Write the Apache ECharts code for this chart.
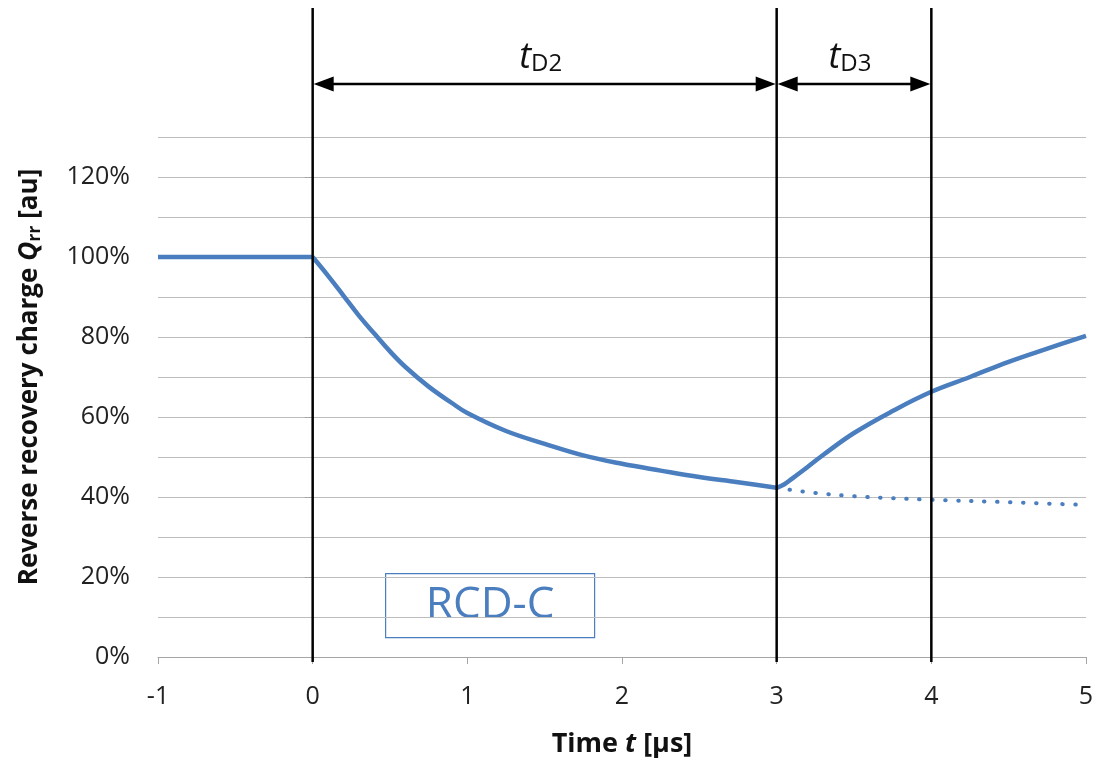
<!DOCTYPE html>
<html><head><meta charset="utf-8">
<script src="https://cdn.jsdelivr.net/npm/echarts@6/dist/echarts.min.js"></script>
<style>html,body{margin:0;padding:0;background:#fff}#c{width:1099px;height:765px}</style>
</head><body><div id="c"></div>
<script>
// ---- data ----
const flatPhase = [[-1,100],[0,100]];
const decayPhase = [[0,100],[0.1,95.3],[0.2,90.3],[0.3,85.3],[0.4,80.8],[0.5,76.4],[0.6,72.5],[0.75,67.6],[0.9,63.5],[1,61],[1.25,56.5],[1.5,53.3],[1.75,50.4],[2,48.3],[2.25,46.6],[2.5,45],[2.75,43.7],[3,42.3]];
const recoveryPhase = [[3,42.3],[3.05,43.2],[3.1,44.6],[3.2,47.5],[3.3,50.5],[3.5,56],[3.75,61.5],[4,66.3],[4.25,70],[4.5,73.8],[4.75,77.1],[5,80.3]];
const continuedDecay = [[3,42.3],[3.25,41],[3.5,40.2],[3.75,39.7],[4,39.3],[4.5,38.7],[5,38]];
const markerTimes = [0,3,4];
const spans = [[0,3,'D2'],[3,4,'D3']];
const yLabelValues = [0,20,40,60,80,100,120];

const blue = '#4a7ebf';
const chart = echarts.init(document.getElementById('c'));
const font = '"Open Sans", sans-serif';

function markerRender(params, api){
  const x = api.coord([api.value(0), 0])[0];
  const cs = params.coordSys;
  return {type:'line', shape:{x1:x, y1:8, x2:x, y2:cs.y+cs.height+5},
    style:{stroke:'#000', lineWidth:2.5}};
}
function spanRender(params, api){
  const cs = params.coordSys;
  const a = api.coord([api.value(0),0])[0] + 1;
  const b = api.coord([api.value(1),0])[0] - 1;
  const y = cs.y - 53;
  const L = 20, H = 7.5;
  const label = spans[params.dataIndex][2];
  return {type:'group', children:[
    {type:'line', shape:{x1:a+5, y1:y, x2:b-5, y2:y}, style:{stroke:'#000', lineWidth:2.5}},
    {type:'polygon', shape:{points:[[a,y],[a+L,y-H],[a+L,y+H]]}, style:{fill:'#000'}},
    {type:'polygon', shape:{points:[[b,y],[b-L,y-H],[b-L,y+H]]}, style:{fill:'#000'}},
    {type:'text', style:{x:(a+b)/2 - 4, y:y-28, align:'center', verticalAlign:'middle',
      text:'{t|t}{s|'+label+'}',
      rich:{t:{fontSize:36, fontStyle:'italic', fontFamily:font, fill:'#111', verticalAlign:'bottom'},
            s:{fontSize:24, fontFamily:font, fill:'#111', verticalAlign:'bottom', padding:[16,0,0,0]}}}}
  ]};
}

const lineOpts = {showSymbol:false, smooth:0.4, z:3};

chart.setOption({
  animation:false,
  backgroundColor:'#fff',
  grid:{left:158, right:13, top:137, bottom:108, containLabel:false, outerBoundsMode:'none'},
  xAxis:{type:'value', min:-1, max:5, interval:1,
    axisLine:{show:true, lineStyle:{color:'#a6a6a6', width:1}},
    axisTick:{show:true, length:7, lineStyle:{color:'#a6a6a6'}},
    axisLabel:{margin:27, fontSize:25, color:'#222', fontFamily:font},
    splitLine:{show:false},
    name:'{b|Time }{i|t}{b| [µs]}', nameLocation:'middle', nameGap:74,
    nameTextStyle:{rich:{b:{fontSize:27, fontWeight:'bold', fontFamily:font, color:'#111'},
      i:{fontSize:27, fontWeight:'bold', fontStyle:'italic', fontFamily:font, color:'#111'}}}
  },
  yAxis:[{type:'value', min:0, max:130, interval:10,
    axisLine:{show:true, lineStyle:{color:'#a6a6a6', width:1}},
    axisTick:{show:true, length:8, lineStyle:{color:'#a6a6a6'}, customValues:yLabelValues},
    axisLabel:{margin:28, fontSize:25, color:'#222', fontFamily:font, customValues:yLabelValues,
      formatter:v=>v+'%'},
    splitLine:{show:false},
    name:'{b|Reverse recovery charge }{i|Q}{s|rr}{b| [au]}', nameLocation:'middle', nameGap:114, nameRotate:90,
    nameTextStyle:{padding:[0,0,0,40], rich:{b:{fontSize:26, fontWeight:'bold', fontFamily:font, color:'#111'},
      i:{fontSize:26, fontWeight:'bold', fontStyle:'italic', fontFamily:font, color:'#111'},
      s:{fontSize:18, fontWeight:'bold', fontFamily:font, color:'#111', padding:[10,0,0,0]}}}
  },{type:'value', min:0, max:130, interval:10, position:'left',
    axisLine:{show:false}, axisTick:{show:false}, axisLabel:{show:false},
    splitLine:{show:true, lineStyle:{color:'#bdbdbd', width:1}}
  }],
  graphic:[{type:'group', left:385, top:573, children:[
    {type:'rect', shape:{x:0,y:0,width:209,height:64}, style:{fill:'#fff', stroke:blue, lineWidth:1.2}},
    {type:'text', style:{x:104.5, y:32, text:'RCD-C', align:'center', verticalAlign:'middle',
      fontSize:44, fontFamily:font, fill:blue}}
  ]}],
  series:[
    Object.assign({type:'line', data:flatPhase, lineStyle:{color:blue, width:4.5}}, lineOpts, {smooth:false}),
    Object.assign({type:'line', data:decayPhase, lineStyle:{color:blue, width:4.5}}, lineOpts),
    Object.assign({type:'line', data:recoveryPhase, lineStyle:{color:blue, width:4.5}}, lineOpts),
    Object.assign({type:'line', data:continuedDecay, lineStyle:{color:blue, width:4, type:[0.5,12.5], cap:'round'}}, lineOpts),
    {type:'custom', data:markerTimes.map(t=>[t]), renderItem:markerRender, clip:false, z:5, silent:true},
    {type:'custom', data:spans.map(s=>[s[0],s[1]]), renderItem:spanRender, clip:false, z:5, silent:true}
  ]
});
</script></body></html>
